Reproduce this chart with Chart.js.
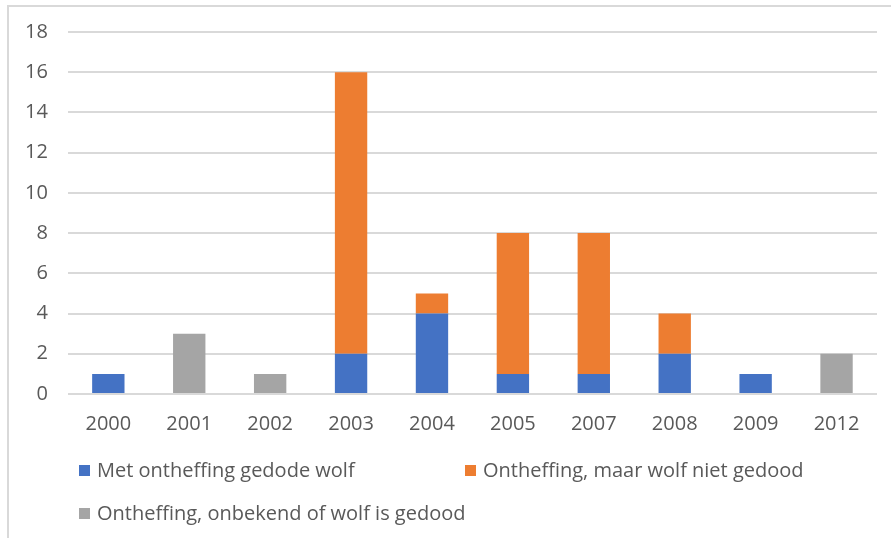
<!DOCTYPE html>
<html>
<head>
<meta charset="utf-8">
<script src="https://cdn.jsdelivr.net/npm/chart.js@4"></script>
<style>
    body { margin: 0; background: #fff; }
    #wrap { position: relative; width: 891px; height: 538px; overflow: hidden; }
    #frame { position: absolute; left: 7px; top: 5px; width: 890px; height: 540px;
             border-left: 2px solid #d9d9d9; border-top: 2px solid #d9d9d9; }
    #chart { position: absolute; left: 0; top: 0; }
    .leg { position: absolute; font-family: "Open Sans", sans-serif; font-size: 20px; color: #595959;
           white-space: nowrap; line-height: 20px; }
    .leg span.box { position: absolute; width: 11px; height: 11px; top: 5px; }
</style>
</head>
<body>
<div id="wrap">
    <div id="frame"></div>
    <canvas id="chart" width="891" height="538"></canvas>
    <div id="legend"></div>
</div>
<script>
var jaren = ['2000', '2001', '2002', '2003', '2004', '2005', '2007', '2008', '2009', '2012'];
var gedood = [1, 0, 0, 2, 4, 1, 1, 2, 1, 0];
var nietGedood = [0, 0, 0, 14, 1, 7, 7, 2, 0, 0];
var onbekend = [0, 3, 1, 0, 0, 0, 0, 0, 0, 2];
var reeksNamen = ['Met ontheffing gedode wolf', 'Ontheffing, maar wolf niet gedood', 'Ontheffing, onbekend of wolf is gedood'];
var kleuren = ['#4472C4', '#ED7D31', '#A5A5A5'];

var tekstKleur = '#595959';
var lettertype = '"Open Sans", sans-serif';

function cargarGrafico() {
    var ctx = document.getElementById('chart').getContext('2d');
    var reeksen = [gedood, nietGedood, onbekend];
    var datasets = reeksen.map(function (r, i) {
        return {
            label: reeksNamen[i],
            data: r,
            backgroundColor: kleuren[i],
            barPercentage: 1,
            categoryPercentage: 0.4
        };
    });
    var chart = new Chart(ctx, {
        type: 'bar',
        data: { labels: jaren, datasets: datasets },
        options: {
            responsive: false,
            animation: false,
            layout: { padding: { left: 5, right: 14, top: 23, bottom: 92 } },
            plugins: { legend: { display: false }, tooltip: { enabled: false } },
            scales: {
                x: {
                    stacked: true,
                    grid: { display: false },
                    border: { display: false },
                    ticks: { color: tekstKleur, font: { family: lettertype, size: 20 }, padding: 10 }
                },
                y: {
                    stacked: true,
                    min: 0,
                    max: 18,
                    grid: { color: '#d9d9d9', lineWidth: 2, drawTicks: false },
                    border: { display: false },
                    ticks: { stepSize: 2, color: tekstKleur, font: { family: lettertype, size: 20 }, padding: 20 }
                }
            }
        }
    });

    // legenda zoals in Excel: twee kolommen
    var posities = [[79, 460], [465, 460], [79, 503]];
    var html = '';
    reeksNamen.forEach(function (naam, i) {
        html += '<div class="leg" style="left:' + posities[i][0] + 'px;top:' + posities[i][1] + 'px">' +
            '<span class="box" style="left:0;background:' + kleuren[i] + '"></span>' +
            '<span style="margin-left:18px">' + naam + '</span></div>';
    });
    document.getElementById('legend').innerHTML = html;
}

cargarGrafico();
</script>
</body>
</html>
